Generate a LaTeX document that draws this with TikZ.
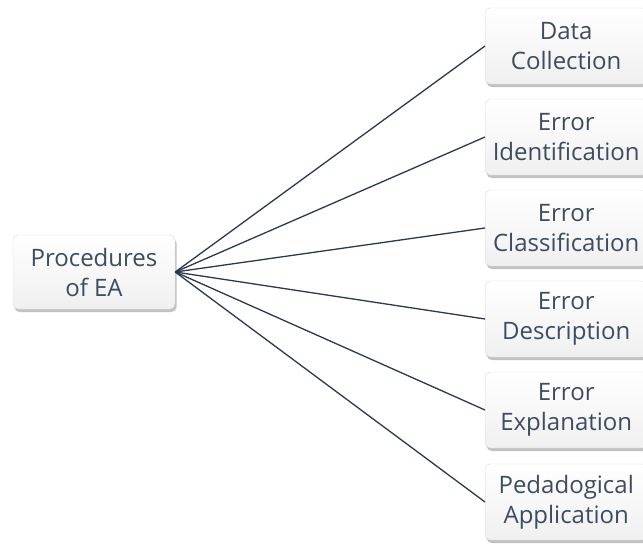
\documentclass[tikz,border=0pt]{standalone}
\usepackage{fontspec}
\setmainfont{Open Sans}
\usetikzlibrary{shadows,positioning}
\definecolor{txt}{HTML}{3E4C60}
\definecolor{ln}{HTML}{2B3850}
\tikzset{
  box/.style={draw=gray!30, line width=0.4pt, rounded corners=5pt, top color=white, bottom color=gray!12,
    minimum width=162pt, minimum height=76pt, align=center, text=txt, inner xsep=1pt,
    font=\fontsize{24}{30}\selectfont,
    drop shadow={shadow xshift=1.5pt, shadow yshift=-3pt, fill=black!40, opacity=0.6}},
  conn/.style={draw=ln, line width=1.3pt}
}
\begin{document}
\begin{tikzpicture}[x=1pt,y=-1pt]
\useasboundingbox (0,0) rectangle (643,547);
\node[box, minimum width=162pt, minimum height=74pt] (root) at (94,272) {Procedures\\of EA};
\node[box, anchor=west] (b1) at (485,46) {Data\\Collection};
\node[box, anchor=west] (b2) at (485,137) {Error\\Identification};
\node[box, anchor=west] (b3) at (485,228) {Error\\Classification};
\node[box, anchor=west] (b4) at (485,319) {Error\\Description};
\node[box, anchor=west] (b5) at (485,410) {Error\\Explanation};
\node[box, anchor=west] (b6) at (485,502) {Pedadogical\\Application};
\foreach \i in {1,...,6} \draw[conn] (root.east) -- (b\i.west);
\end{tikzpicture}
\end{document}
